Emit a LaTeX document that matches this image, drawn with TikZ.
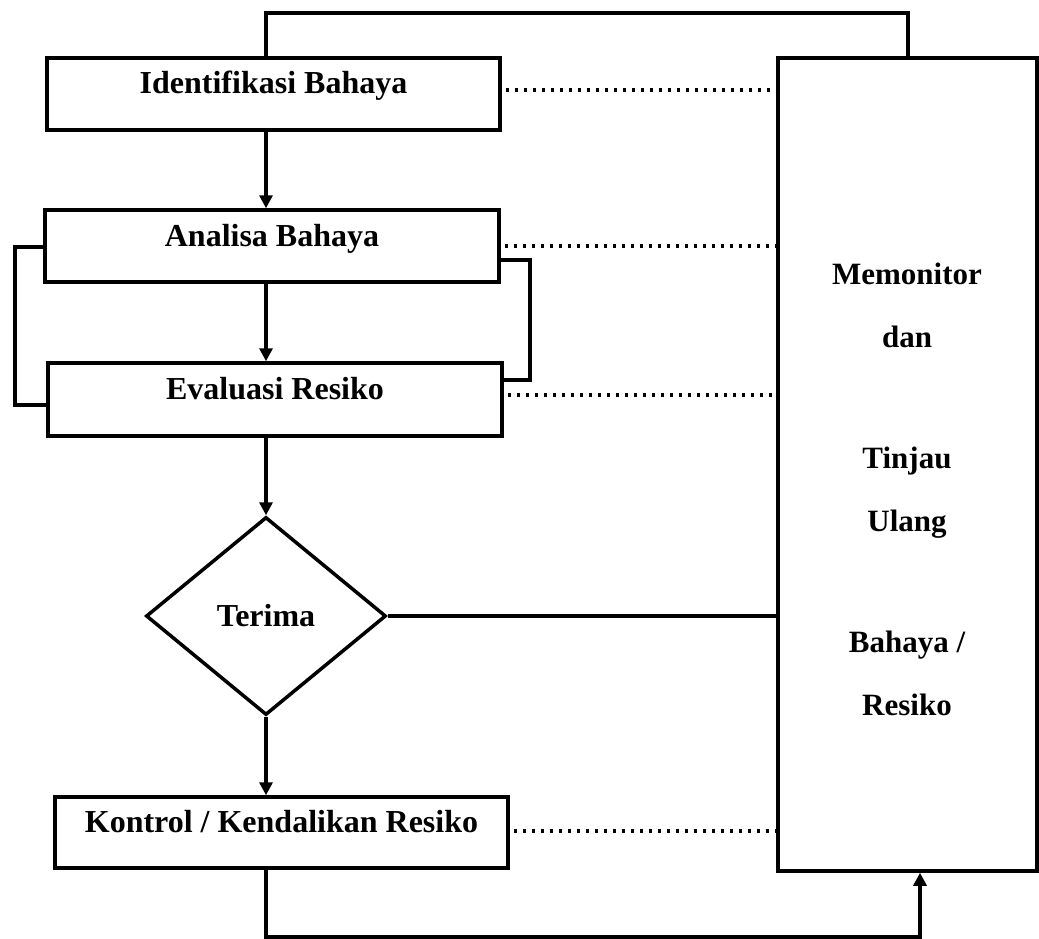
\documentclass[tikz,border=0pt]{standalone}
\usepackage{fontspec}
\setmainfont{Liberation Serif}
\usetikzlibrary{shapes.geometric,arrows.meta}
\begin{document}
\begin{tikzpicture}[x=1pt,y=-1pt,
  line width=3.5pt,
  box/.style={draw,rectangle,inner sep=0pt,minimum height=72pt,text height=12pt,text depth=12pt,font=\fontsize{32}{36}\selectfont\bfseries},
  decide/.style={draw,diamond,inner sep=0pt,minimum width=240pt,minimum height=198pt,font=\fontsize{32}{36}\selectfont\bfseries},
  arr/.style={-{Triangle[length=13pt,width=13pt]},line width=3.5pt},
  link/.style={line width=3.5pt},
  dots/.style={line width=4pt,dash pattern=on 3.5pt off 5.5pt,dash phase=-4pt}]
\useasboundingbox (0,0) rectangle (1039,939);

\node[box,minimum width=453pt] (ident) at (273.5,94) {Identifikasi Bahaya};
\node[box,minimum width=454pt] (anal) at (272,246) {Analisa Bahaya};
\node[box,minimum width=454pt,minimum height=73pt] (eval) at (275,399.5) {Evaluasi Resiko};
\node[decide] (terima) at (266,616) {Terima};
\node[box,minimum width=453pt,minimum height=71pt] (kontrol) at (281.5,832.5) {Kontrol / Kendalikan Resiko};
\node[draw,rectangle,inner sep=0pt,minimum width=259pt,minimum height=813pt] (mon) at (907.5,464.5) {};
\node[font=\fontsize{31}{63}\selectfont\bfseries,align=center] (montext) at (907,489)
  {Memonitor\\dan\\[58pt]Tinjau\\Ulang\\[58pt]Bahaya /\\Resiko};

% top feedback line
\coordinate (tr) at (908,13);
\draw[link] (ident.north -| terima) |- (tr) -- (tr |- mon.north);

% side loops
\coordinate (ll) at (15,300);
\draw[link] ([yshift=-1pt]anal.west) -| (ll) |- ([yshift=-5.5pt]eval.west);
\coordinate (rl) at (530,300);
\draw[link] ([yshift=-14pt]anal.east) -| (rl) |- ([yshift=19.5pt]eval.east);

% main flow
\draw[arr] (ident.south -| terima) -- (anal.north -| terima);
\draw[arr] (anal.south -| terima) -- (eval.north -| terima);
\draw[arr] (eval.south -| terima) -- (terima.north);
\draw[arr] (terima.south) -- (kontrol.north -| terima);
\draw[link] (terima.east) -- (terima.east -| mon.west);
\coordinate (bl) at (920,937);
\draw[arr] (kontrol.south -| terima) |- (bl) -- (bl |- mon.south);

% dotted links to monitor box
\draw[dots] ([yshift=4pt]ident.east) -- ([yshift=4pt]ident.east -| mon.west);
\draw[dots] (anal.east) -- (anal.east -| mon.west);
\draw[dots] ([yshift=4.5pt]eval.east) -- ([yshift=4.5pt]eval.east -| mon.west);
\draw[dots] ([yshift=1.5pt]kontrol.east) -- ([yshift=1.5pt]kontrol.east -| mon.west);
\end{tikzpicture}
\end{document}
